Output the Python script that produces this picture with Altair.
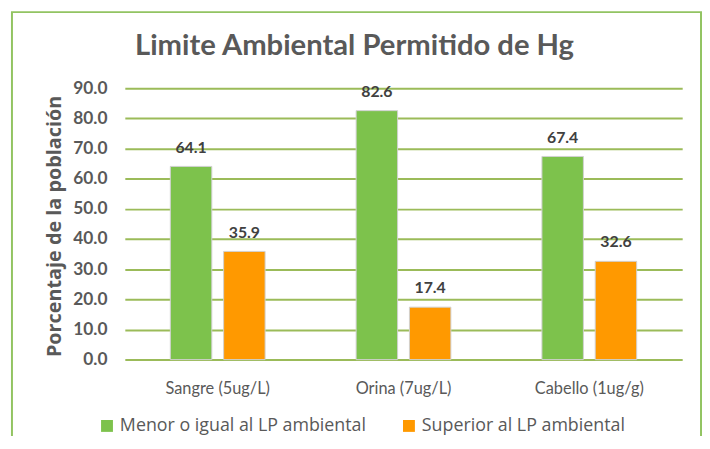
import altair as alt
import pandas as pd

categorias = ["Sangre (5ug/L)", "Orina (7ug/L)", "Cabello (1ug/g)"]
series = ["Menor o igual al LP ambiental", "Superior al LP ambiental"]
menor = [64.1, 82.6, 67.4]
superior = [35.9, 17.4, 32.6]
colores = ["#7dc24c", "#ff9900"]
y_ticks = [0, 10, 20, 30, 40, 50, 60, 70, 80, 90]
titulo = "Limite Ambiental Permitido de Hg"
y_titulo = "Porcentaje de la población"

rows = []
for c, a, b in zip(categorias, menor, superior):
    rows.append({"categoria": c, "serie": series[0], "valor": a})
    rows.append({"categoria": c, "serie": series[1], "valor": b})
df = pd.DataFrame(rows)

FONT = "Lato"
GRAY = "#595959"

x_axis = alt.Axis(title=None, labelAngle=0, labelFontSize=16.5,
                  labelColor=GRAY, labelFont=FONT, labelPadding=21,
                  domain=False, ticks=False, tickSize=0, grid=False)
y_axis = alt.Axis(values=y_ticks, format=".1f", title=y_titulo,
                  titleFont="Open Sans", titleFontSize=20, titleFontWeight="bold",
                  titleColor=GRAY, titleX=-71, titleY=139,
                  titleBaseline="middle", titleAlign="center",
                  labelFont=FONT, labelFontSize=17.5, labelFontWeight="bold",
                  labelColor=GRAY, labelPadding=18, labelOverlap=False,
                  domain=False, ticks=False, tickSize=0,
                  grid=True, gridColor="#9bbb59", gridWidth=2)
x_scale = alt.Scale(paddingInner=0.49, paddingOuter=0.245)
y_scale = alt.Scale(domain=[0, 90], nice=False)
xoff_enc = alt.XOffset("serie:N", sort=series,
                       scale=alt.Scale(paddingInner=0.222, paddingOuter=0))

bars = alt.Chart(df).mark_bar(stroke="#d0d0d0", strokeWidth=1).encode(
    x=alt.X("categoria:N", sort=categorias, scale=x_scale, axis=x_axis),
    xOffset=xoff_enc,
    y=alt.Y("valor:Q", scale=y_scale, axis=y_axis),
    color=alt.Color("serie:N", sort=series,
                    scale=alt.Scale(domain=series, range=colores),
                    legend=alt.Legend(title=None, orient="none", legendX=-27, legendY=332,
                                      direction="horizontal", symbolType="square",
                                      symbolSize=144, symbolStrokeWidth=0,
                                      labelFont="Open Sans", labelFontSize=18, labelColor=GRAY,
                                      labelLimit=0, labelOffset=4, columnPadding=34)),
)

labels = alt.Chart(df).mark_text(baseline="alphabetic", dy=-14, font=FONT,
                                 fontSize=16, fontWeight="bold", color="#404040").encode(
    x=alt.X("categoria:N", sort=categorias, scale=x_scale, axis=x_axis),
    xOffset=xoff_enc,
    y=alt.Y("valor:Q", scale=y_scale, axis=y_axis),
    text=alt.Text("valor:Q", format=".1f"),
)

title_df = pd.DataFrame({"t": [titulo]})
title_mark = alt.Chart(title_df).mark_text(font=FONT, fontSize=29.5, fontWeight="bold",
                                           color=GRAY, baseline="alphabetic",
                                           align="center").encode(
    text="t:N", x=alt.value(232), y=alt.value(-34))

border = alt.Chart(title_df).mark_rect(fill=None, stroke="#92c462", strokeWidth=2).encode(
    x=alt.value(-114), x2=alt.value(582), y=alt.value(-77), y2=alt.value(440))

chart = alt.layer(bars, labels, title_mark, border).properties(
    width=563, height=274,
    autosize=alt.AutoSizeParams(type="none"),
    padding={"left": 118, "top": 79, "right": 20, "bottom": 75},
).configure_view(stroke=None)

chart.save("out.html", embed_options={"renderer": "svg", "actions": False})
